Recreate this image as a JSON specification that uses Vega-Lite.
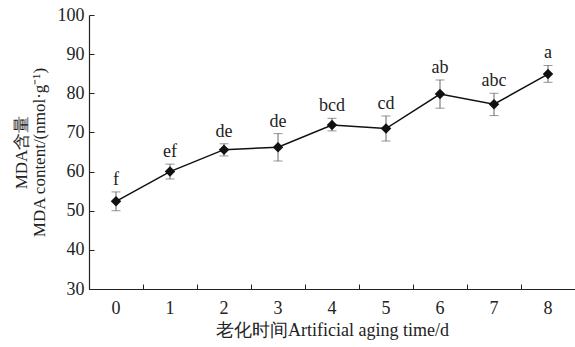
{
  "$schema": "https://vega.github.io/schema/vega-lite/v6.json",
  "width": 486,
  "height": 274,
  "autosize": {"type": "none"},
  "padding": {"left": 89, "top": 15, "right": 0, "bottom": 58},
  "background": "white",
  "config": {
    "view": {"stroke": null},
    "font": "Liberation Serif",
    "axis": {"grid": false, "domainColor": "#222", "tickColor": "#222", "labelColor": "#222", "titleColor": "#222", "labelFont": "Liberation Serif", "titleFont": "Liberation Serif", "titleFontWeight": "normal", "domainWidth": 1.2, "tickWidth": 1}
  },
  "data": {"values": [
    {"day": "0", "mda": 52.4, "lo": 50.0, "hi": 54.8, "sig": "f"},
    {"day": "1", "mda": 60.0, "lo": 58.1, "hi": 61.9, "sig": "ef"},
    {"day": "2", "mda": 65.6, "lo": 64.0, "hi": 67.1, "sig": "de"},
    {"day": "3", "mda": 66.2, "lo": 62.7, "hi": 69.7, "sig": "de"},
    {"day": "4", "mda": 71.9, "lo": 70.4, "hi": 73.6, "sig": "bcd"},
    {"day": "5", "mda": 71.0, "lo": 67.8, "hi": 74.2, "sig": "cd"},
    {"day": "6", "mda": 79.8, "lo": 76.2, "hi": 83.4, "sig": "ab"},
    {"day": "7", "mda": 77.2, "lo": 74.3, "hi": 80.0, "sig": "abc"},
    {"day": "8", "mda": 84.9, "lo": 82.8, "hi": 87.1, "sig": "a"}
  ]},
  "encoding": {
    "x": {"field": "day", "type": "ordinal", "scale": {"paddingInner": 0, "paddingOuter": 0},
      "axis": {"title": "老化时间Artificial aging time/d", "labelAngle": 0, "labelFontSize": 18, "titleFontSize": 18, "bandPosition": 0, "tickSize": -5, "labelPadding": 15, "titlePadding": 4, "domainWidth": 1.2}},
    "y": {"field": "mda", "type": "quantitative",
        "scale": {"domain": [30, 100], "zero": false, "nice": false},
        "axis": {"title": ["MDA含量", "MDA content/(nmol·g⁻¹)"], "values": [30, 40, 50, 60, 70, 80, 90, 100], "labelOverlap": false, "labelFontSize": 18, "titleFontSize": 17, "tickSize": -5, "labelPadding": 10, "titlePadding": 9, "titleLineHeight": 18}}
  },
  "layer": [
    {"mark": {"type": "rule", "color": "#666", "strokeWidth": 1},
      "encoding": {"y": {"field": "lo", "type": "quantitative"}, "y2": {"field": "hi"}}},
    {"mark": {"type": "tick", "color": "#666", "orient": "horizontal", "size": 9, "thickness": 1},
      "encoding": {"y": {"field": "lo", "type": "quantitative"}}},
    {"mark": {"type": "tick", "color": "#666", "orient": "horizontal", "size": 9, "thickness": 1},
      "encoding": {"y": {"field": "hi", "type": "quantitative"}}},
    {"mark": {"type": "line", "color": "#111", "strokeWidth": 1.5}, "encoding": {}},
    {"mark": {"type": "point", "shape": "diamond", "filled": true, "color": "#111", "size": 110, "opacity": 1}, "encoding": {}},
    {"mark": {"type": "text", "fontSize": 18, "color": "#222", "baseline": "bottom", "dy": -3},
      "encoding": {"y": {"field": "hi", "type": "quantitative"}, "text": {"field": "sig"}}}
  ]
}
